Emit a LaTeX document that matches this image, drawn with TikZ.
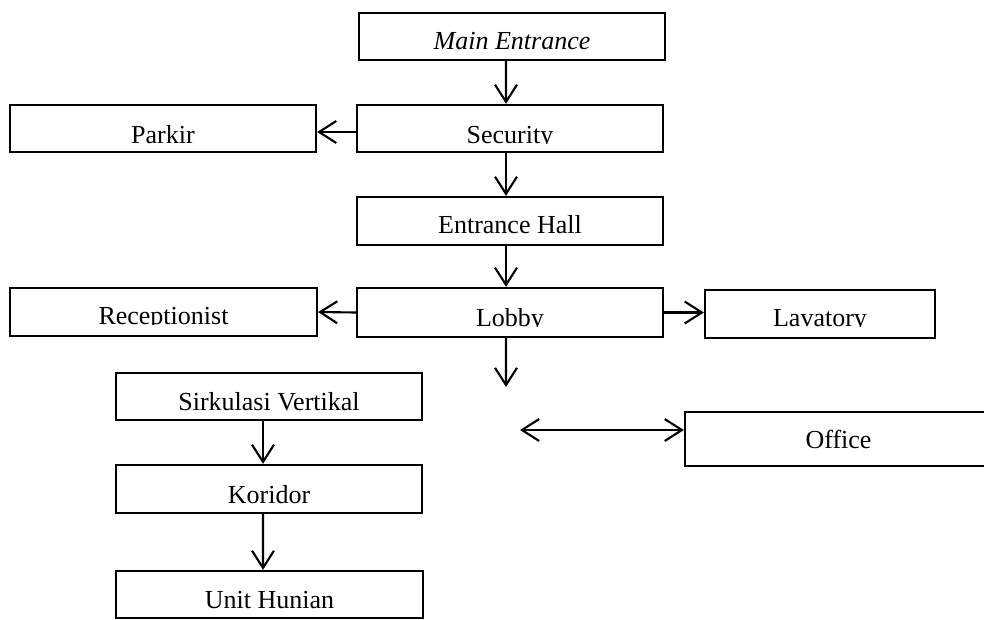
\documentclass[tikz,border=0pt]{standalone}
\usepackage{fontspec}
\setmainfont{Liberation Serif}
\usetikzlibrary{arrows.meta}

% Label set on a baseline placed #2 px above the bottom edge of box #1;
% anything below that baseline is cut away.
\newcommand\boxlabel[3]{%
  \begin{scope}
    \clip (#1.north west) rectangle ([yshift={#2*0.02cm}]#1.south east);
    \node[lbl, anchor=base] (#1-text) at ([yshift={#2*0.02cm}]#1.south) {#3};
  \end{scope}}

\begin{document}
\begin{tikzpicture}[x=0.02cm, y=-0.02cm,
  roombox/.style={draw=black, line width=1.3pt, inner sep=0pt, minimum width=6.12cm, minimum height=0.94cm},
  lbl/.style={inner sep=0pt, font=\fontsize{14.8}{17}\selectfont},
  tip/.style={Straight Barb[length=9.8pt, width=12.5pt, line width=1.2pt]},
  flow/.style={draw=black, line width=1.2pt, -{Straight Barb[length=9.8pt, width=12.5pt, line width=1.2pt]}},
  both/.style={draw=black, line width=1.2pt, {Straight Barb[length=9.8pt, width=12.5pt, line width=1.2pt]}-{Straight Barb[length=9.8pt, width=12.5pt, line width=1.2pt]}}]

\useasboundingbox (0,0) rectangle (984,619);

% boxes
\node[roombox] (main)   at (512,36.5)  {};
\node[roombox] (sec)    at (510,128.5) {};
\node[roombox] (parkir) at (163,128.5) {};
\node[roombox, minimum height=0.96cm] (hall)  at (510,221)   {};
\node[roombox, minimum height=0.98cm] (lobby) at (510,312.5) {};
\node[roombox, minimum width=6.14cm, minimum height=0.96cm] (recep) at (163.5,312) {};
\node[roombox, minimum width=4.6cm,  minimum height=0.96cm] (lav)   at (820,314)   {};
\node[roombox] (sirk)   at (269,396.5) {};
\node[roombox, minimum width=6.14cm, minimum height=1.08cm] (office) at (838.5,439) {};
\node[roombox, minimum height=0.96cm] (kor)   at (269,489)   {};
\node[roombox, minimum width=6.14cm] (unit)   at (269.5,594.5) {};

% labels
\boxlabel{main}{12}{\itshape Main Entrance}
\boxlabel{sec}{10}{Security}
\boxlabel{parkir}{10}{Parkir}
\boxlabel{hall}{13}{Entrance Hall}
\boxlabel{lobby}{12}{Lobby}
\boxlabel{recep}{13}{Receptionist}
\boxlabel{lav}{13}{Lavatory}
\boxlabel{sirk}{11}{Sirkulasi Vertikal}
\boxlabel{office}{19}{Office}
\boxlabel{kor}{11}{Koridor}
\boxlabel{unit}{11}{Unit Hunian}

% free ends
\coordinate (lobbyout) at (506,387);
\coordinate (officeend) at (520,430);

% connectors
\draw[flow] ([xshift=-0.12cm]main.south) -- ([xshift=-0.08cm]sec.north);
\draw[flow] ([yshift=-0.07cm]sec.west) -- ([yshift=-0.07cm]parkir.east);
\draw[flow] ([xshift=-0.08cm]sec.south) -- ([xshift=-0.08cm]hall.north);
\draw[flow] ([xshift=-0.08cm]hall.south) -- ([xshift=-0.08cm]lobby.north);
\draw[flow] (lobby.west) -- (recep.east);
\draw[flow] (lobby.east) -- (lobby.east -| lav.west);
\draw[flow] ([xshift=-0.08cm]lobby.south) -- (lobbyout);
\draw[both] (officeend) -- (officeend -| office.west);
\draw[flow] ([xshift=-0.12cm]sirk.south) -- ([xshift=-0.12cm]kor.north);
\draw[flow] ([xshift=-0.12cm]kor.south) -- ([xshift=-0.13cm]unit.north);

\end{tikzpicture}
\end{document}
